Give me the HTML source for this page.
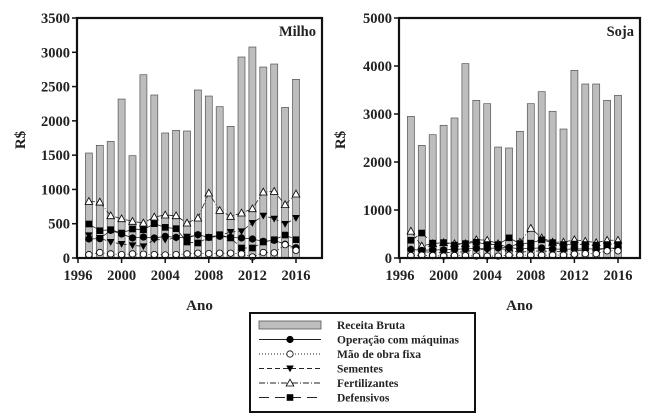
<!DOCTYPE html>
<html><head><meta charset="utf-8"><style>
html,body{margin:0;padding:0;background:#fff;width:649px;height:415px;overflow:hidden}
svg{font-family:"Liberation Serif",serif;font-weight:bold}
</style></head><body>
<svg id="chart" width="649" height="415" viewBox="0 0 649 415"></svg>
<script>
const years=[1997,1998,1999,2000,2001,2002,2003,2004,2005,2006,2007,2008,2009,2010,2011,2012,2013,2014,2015,2016];
const milhoReceita=[1531,1643,1701,2318,1492,2673,2377,1823,1862,1852,2450,2362,2207,1920,2931,3077,2785,2829,2197,2605];
const milhoOperacao=[277,282,403,350,292,306,292,316,301,292,340,301,316,301,292,277,243,258,200,150];
const milhoMao=[49,80,60,50,60,55,50,45,50,60,70,65,70,70,60,15,80,75,194,112];
const milhoSementes=[330,292,233,204,185,170,267,267,292,310,330,300,330,379,389,510,617,573,496,583];
const milhoFert=[826,816,617,573,535,510,598,627,617,510,583,948,695,608,656,719,962,972,778,933];
const milhoDef=[496,398,413,364,423,413,500,447,428,233,219,301,340,292,146,146,233,267,335,267];
const sojaReceita=[2951,2347,2569,2764,2917,4049,3285,3215,2312,2292,2639,3215,3465,3056,2687,3910,3625,3625,3285,3389];
const sojaOperacao=[180,160,170,170,180,190,200,200,210,220,190,200,210,190,180,190,190,190,200,210];
const sojaMao=[50,60,50,40,50,50,40,40,40,60,60,60,60,60,60,80,90,90,150,150];
const sojaSementes=[150,130,120,110,120,130,180,170,200,170,120,140,150,130,140,160,160,170,200,190];
const sojaFert=[560,250,300,320,300,300,380,370,300,210,330,620,420,330,330,380,350,320,370,370];
const sojaDef=[370,520,310,320,270,300,330,280,280,420,300,310,380,320,280,290,280,270,280,280];
const xTicks=[1996,2000,2004,2008,2012,2016];
const milhoYTicks=[0,500,1000,1500,2000,2500,3000,3500];
const sojaYTicks=[0,1000,2000,3000,4000,5000];

const NS="http://www.w3.org/2000/svg";
const svg=document.getElementById('chart');
function el(t,a,p){const e=document.createElementNS(NS,t);for(const k in a)e.setAttribute(k,a[k]);(p||svg).appendChild(e);return e;}

function panel(cfg){
  const g=el('g',{});
  
  
  const L=cfg.left,R=cfg.right,T=18,B=258;
  const x=v=>L+1+(v-1996)*10.9;
  const y=v=>B-(v/cfg.ymax)*(B-T);
  years.forEach((yr,i)=>{
    const b=el('rect',{x:x(yr)-3.5,y:y(cfg.rec[i]),width:7,height:B-y(cfg.rec[i]),fill:'#bdbdbd',stroke:'#555','stroke-width':0.7},g);
    
    
  });
  const series=[
    {d:cfg.fert,dash:'6,2,1,2',m:'tri',fill:'#fff',n:'fertilizantes'},
    {d:cfg.sem,dash:'4,3',m:'dtri',fill:'#000',n:'sementes'},
    {d:cfg.def,dash:'8,4',m:'sq',fill:'#000',n:'defensivos'},
    {d:cfg.op,dash:'',m:'circ',fill:'#000',n:'operacao'},
    {d:cfg.mao,dash:'1,2',m:'circ',fill:'#fff',n:'mao-de-obra'}
  ];
  series.forEach(s=>{
    const pts=years.map((yr,i)=>x(yr)+','+y(s.d[i])).join(' ');
    const pl=el('polyline',{points:pts,fill:'none',stroke:'#222','stroke-width':0.8,'stroke-dasharray':s.dash},g);
    
    
    years.forEach((yr,i)=>{
      const cx=x(yr),cy=y(s.d[i]);let m;
      if(s.m==='circ')m=el('circle',{cx:cx,cy:cy,r:3.2,fill:s.fill,stroke:'#000','stroke-width':0.8},g);
      else if(s.m==='sq')m=el('rect',{x:cx-3.3,y:cy-3.3,width:6.6,height:6.6,fill:'#000'},g);
      else if(s.m==='tri')m=el('polygon',{points:`${cx},${cy-3.8} ${cx-3.8},${cy+3} ${cx+3.8},${cy+3}`,fill:'#fff',stroke:'#000','stroke-width':0.8},g);
      else m=el('polygon',{points:`${cx},${cy+3.8} ${cx-3.8},${cy-3} ${cx+3.8},${cy-3}`,fill:'#000'},g);
      
      
    });
  });
  const fr=el('rect',{x:L,y:T,width:R-L,height:B-T,fill:'none',stroke:'#111','stroke-width':2.2},g);
  
  
  cfg.yt.forEach(v=>{
    el('line',{x1:L-5,x2:L,y1:y(v),y2:y(v),stroke:'#111','stroke-width':1.5},g);
    const t=el('text',{x:L-7,y:y(v)+5,'text-anchor':'end','font-size':14.5,fill:'#222'},g);
    t.textContent=v;
    
    
  });
  xTicks.forEach(v=>{
    el('line',{x1:x(v),x2:x(v),y1:B,y2:B+5,stroke:'#111','stroke-width':1.5},g);
    const t=el('text',{x:x(v),y:B+22,'text-anchor':'middle','font-size':14.5,fill:'#222'},g);
    t.textContent=v;
    
    
  });
  const tt=el('text',{x:R-6,y:T+18,'text-anchor':'end','font-size':14.5,fill:'#222'},g);
  tt.textContent=cfg.title;
  
  
  const xa=el('text',{x:(L+R)/2,y:310,'text-anchor':'middle','font-size':15,fill:'#222'},g);
  xa.textContent='Ano';
  
  
  const ya=el('text',{x:cfg.ylx,y:140,'text-anchor':'middle','font-size':15,fill:'#222',transform:`rotate(-90 ${cfg.ylx} 140)`},g);
  ya.textContent='R$';
  
  
}
panel({name:'milho',left:77,right:322,ymax:3500,yt:milhoYTicks,title:'Milho',ylx:25,rec:milhoReceita,op:milhoOperacao,mao:milhoMao,sem:milhoSementes,fert:milhoFert,def:milhoDef});
panel({name:'soja',left:399,right:640,ymax:5000,yt:sojaYTicks,title:'Soja',ylx:345,rec:sojaReceita,op:sojaOperacao,mao:sojaMao,sem:sojaSementes,fert:sojaFert,def:sojaDef});

const lg=el('g',{});


el('rect',{x:250,y:313,width:225,height:99,fill:'#fff',stroke:'#111','stroke-width':2},lg);
const items=[
 {n:'Receita Bruta',t:'bar'},
 {n:'Operação com máquinas',dash:'',m:'circ',f:'#000'},
 {n:'Mão de obra fixa',dash:'1,2',m:'circ',f:'#fff'},
 {n:'Sementes',dash:'5,3',m:'dtri'},
 {n:'Fertilizantes',dash:'6,2,1,2',m:'tri'},
 {n:'Defensivos',dash:'10,6',m:'sq'}
];
items.forEach((it,i)=>{
  const cy=325+i*14.5;
  const g=el('g',{},lg);
  
  
  if(it.t==='bar')el('rect',{x:259,y:cy-4,width:62,height:8,fill:'#bdbdbd',stroke:'#555','stroke-width':0.8},g);
  else{
    el('line',{x1:259,x2:321,y1:cy,y2:cy,stroke:'#222','stroke-width':0.9,'stroke-dasharray':it.dash},g);
    const cx=290;
    if(it.m==='circ')el('circle',{cx:cx,cy:cy,r:3.2,fill:it.f,stroke:'#000','stroke-width':0.8},g);
    else if(it.m==='sq')el('rect',{x:cx-3.3,y:cy-3.3,width:6.6,height:6.6,fill:'#000'},g);
    else if(it.m==='tri')el('polygon',{points:`${cx},${cy-3.8} ${cx-3.8},${cy+3} ${cx+3.8},${cy+3}`,fill:'#fff',stroke:'#000','stroke-width':0.8},g);
    else el('polygon',{points:`${cx},${cy+3.8} ${cx-3.8},${cy-3} ${cx+3.8},${cy-3}`,fill:'#000'},g);
  }
  const t=el('text',{x:337,y:cy+4,'font-size':11.5,fill:'#222'},g);
  t.textContent=it.n;
});
</script>
</body></html>
